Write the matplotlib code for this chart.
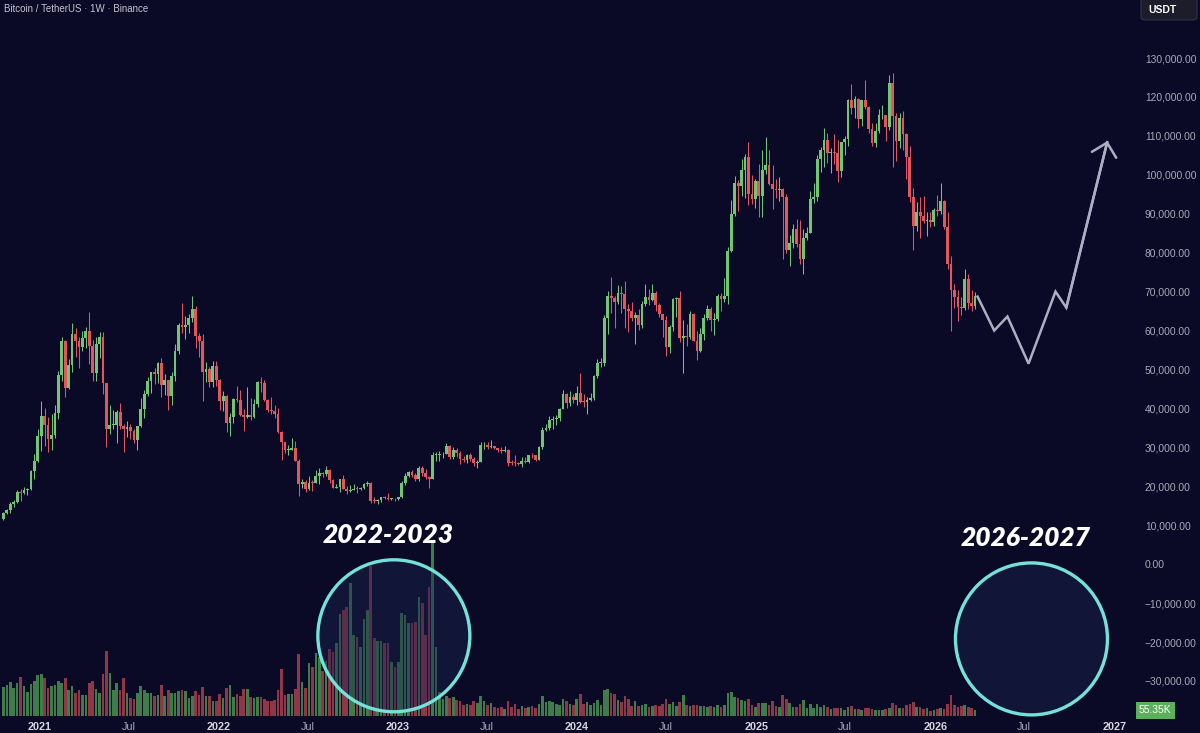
import matplotlib
matplotlib.use("Agg")
import matplotlib.pyplot as plt
import matplotlib.dates as mdates
import matplotlib.transforms as mtrans
from matplotlib.patches import Ellipse, FancyBboxPatch
from matplotlib.ticker import FuncFormatter
import numpy as np
import pandas as pd

plt.rcParams['font.family'] = ['Liberation Sans', 'DejaVu Sans']

# weekly BTC/USDT candles (thousand USDT), first week starts 2020-10-19
first_open = 11.50
highs = [
    # 2020
    13.35, 14.10, 15.97, 16.48, 18.95, 19.42, 19.92, 19.45, 24.30, 28.40, 34.80,
    # 2021
    41.95, 40.10, 37.85, 38.50, 40.95, 49.70, 58.35, 57.53, 52.64, 61.84, 60.63, 58.42, 59.80,
    61.00, 64.85, 57.50, 58.45, 59.50, 59.60, 46.60, 40.90, 39.48, 39.50, 41.33, 36.00, 36.68,
    35.90, 34.68, 35.45, 42.60, 44.78, 48.14, 49.38, 50.50, 51.90, 52.92, 48.84, 47.35, 49.23,
    56.56, 62.00, 67.00, 63.73, 64.27, 69.00, 66.40, 59.27, 59.18, 51.94, 50.70, 52.09, 52.08,
    # 2022
    47.57, 44.50, 43.50, 38.95, 42.66, 45.82, 44.73, 39.84, 45.40, 42.59, 42.45, 47.00, 48.19,
    47.22, 42.41, 42.97, 40.80, 40.02, 34.24, 31.33, 30.66, 32.40, 31.76, 26.90, 21.87, 21.54,
    22.53, 21.60, 24.28, 24.67, 23.65, 25.21, 24.45, 21.82, 20.58, 21.86, 22.80, 19.96, 20.34,
    20.48, 19.95, 19.70, 20.89, 21.48, 21.06, 17.19, 16.80, 17.20, 17.42, 18.39, 17.06, 16.97,
    # 2023
    17.18, 21.26, 23.37, 23.96, 24.26, 23.46, 25.25, 25.13, 24.48, 22.60, 28.87, 28.87, 29.18,
    28.80, 31.00, 30.49, 30.02, 29.84, 29.10, 27.67, 28.26, 28.45, 27.44, 26.80, 31.43, 31.28,
    31.50, 31.80, 30.45, 29.95, 29.99, 30.24, 29.69, 26.84, 28.14, 26.12, 27.49, 27.48, 28.06,
    28.58, 27.99, 30.38, 35.28, 35.98, 37.97, 37.98, 38.42, 40.22, 44.70, 44.00, 44.40, 43.80,
    # 2024
    45.88, 48.97, 43.58, 42.84, 43.88, 48.59, 52.82, 52.98, 64.00, 70.14, 73.78, 68.92, 71.73,
    71.34, 72.80, 66.87, 67.23, 64.73, 65.50, 67.70, 71.98, 70.61, 71.95, 70.20, 66.99, 64.30,
    63.86, 61.40, 68.37, 68.50, 70.08, 62.75, 61.80, 65.00, 64.48, 59.80, 60.70, 64.13, 66.50,
    66.10, 64.48, 69.40, 69.52, 73.62, 81.50, 93.48, 99.59, 98.69, 104.09, 105.25, 108.35, 99.96,
    # 2025
    99.04, 102.72, 106.40, 109.59, 106.46, 102.50, 98.82, 99.48, 96.50, 95.00, 84.50, 87.47,
    88.77, 88.50, 86.10, 86.50, 95.76, 97.90, 104.99, 107.10, 111.98, 110.72, 106.79, 110.53,
    108.91, 108.53, 110.00, 119.49, 123.22, 120.25, 119.80, 119.31, 124.47, 117.63, 113.33,
    113.38, 116.80, 117.90, 115.40, 125.70, 126.20, 116.00, 115.90, 116.40, 110.80, 107.50,
    96.60, 93.10, 94.20, 94.60, 90.40, 90.50, 91.50,
    # 2026
    94.80, 97.90, 93.60, 90.50, 79.20, 72.00, 70.50, 68.50, 75.90, 74.50, 70.30, 69.80,
]
lows = [
    # 2020
    11.40, 12.90, 13.20, 14.80, 15.78, 16.20, 18.10, 17.65, 19.00, 21.80, 26.20,
    # 2021
    29.00, 30.40, 28.85, 29.20, 32.30, 37.35, 47.00, 43.00, 45.00, 49.30, 53.27, 50.43, 54.70,
    55.47, 51.50, 47.00, 47.05, 52.90, 43.82, 30.00, 33.38, 34.80, 31.00, 34.80, 28.80, 32.70,
    32.08, 31.10, 29.28, 35.20, 37.50, 43.08, 43.99, 46.30, 46.51, 42.84, 43.37, 39.60, 40.75,
    47.10, 53.88, 59.46, 57.80, 59.40, 62.28, 55.60, 53.26, 42.00, 46.78, 45.50, 45.56, 45.68,
    # 2022
    39.65, 39.44, 34.00, 32.92, 36.25, 41.74, 38.00, 34.32, 37.45, 37.15, 37.56, 40.47, 44.20,
    41.86, 39.20, 38.53, 37.60, 33.71, 26.70, 28.63, 28.02, 29.30, 26.56, 17.62, 19.64, 18.63,
    19.10, 18.91, 20.76, 20.70, 22.42, 22.67, 20.76, 19.53, 19.50, 18.54, 19.32, 18.13, 18.47,
    18.95, 18.19, 18.98, 19.30, 20.00, 15.59, 15.82, 15.48, 16.00, 16.73, 16.55, 16.40, 16.33,
    # 2023
    16.55, 17.10, 20.40, 22.30, 22.50, 21.36, 21.35, 22.76, 21.97, 19.55, 21.87, 26.60, 26.51,
    27.20, 28.17, 27.13, 26.94, 27.65, 25.81, 26.35, 25.88, 26.51, 25.33, 24.80, 26.26, 29.50,
    29.70, 29.95, 29.61, 28.86, 28.58, 28.71, 25.17, 25.36, 25.33, 25.37, 24.90, 26.00, 25.99,
    27.16, 26.54, 26.78, 29.66, 34.08, 34.52, 34.80, 35.63, 36.71, 39.95, 40.22, 40.50, 41.30,
    # 2024
    40.75, 41.50, 40.28, 38.55, 41.80, 42.26, 47.71, 50.52, 50.90, 59.00, 64.55, 60.78, 66.82,
    64.49, 60.66, 59.60, 62.39, 56.55, 60.19, 60.75, 66.30, 66.60, 67.47, 65.07, 63.38, 58.40,
    53.48, 54.26, 59.94, 63.45, 57.12, 49.00, 56.08, 57.84, 57.20, 52.55, 54.58, 57.49, 62.75,
    59.83, 58.90, 62.44, 65.07, 67.46, 66.84, 80.22, 89.38, 90.79, 94.50, 94.15, 92.17, 92.50,
    # 2025
    91.53, 89.26, 89.26, 100.10, 97.40, 91.23, 94.09, 93.39, 78.26, 80.00, 76.60, 81.13,
    81.56, 77.15, 74.51, 83.14, 85.10, 92.80, 93.38, 100.72, 102.00, 103.07, 100.37, 102.66,
    98.20, 99.50, 105.10, 107.47, 115.74, 114.72, 112.00, 112.65, 116.80, 110.68, 107.35,
    107.26, 110.62, 114.38, 108.65, 111.50, 102.00, 103.52, 106.90, 106.30, 98.94, 93.00,
    80.60, 85.50, 83.80, 87.50, 84.40, 86.50, 86.80,
    # 2026
    89.50, 90.00, 86.00, 75.80, 60.00, 65.80, 62.50, 64.00, 65.20, 65.50, 65.00, 65.60,
]
closes = [
    # 2020
    13.03, 13.80, 15.48, 15.96, 18.41, 18.18, 19.15, 19.27, 23.85, 26.45, 33.00,
    # 2021
    38.15, 35.80, 32.26, 33.10, 38.90, 48.60, 57.40, 45.20, 51.20, 59.00, 57.35, 55.80, 58.20,
    59.77, 56.15, 49.05, 56.62, 58.24, 46.42, 34.70, 35.70, 35.80, 39.10, 35.55, 34.70, 35.29,
    34.25, 31.80, 35.40, 39.85, 43.80, 47.05, 49.29, 48.82, 51.75, 46.06, 47.26, 43.16, 48.20,
    54.66, 61.53, 60.85, 61.30, 63.27, 65.47, 58.62, 57.27, 49.40, 50.10, 46.68, 50.78, 47.29,
    # 2022
    41.86, 43.08, 36.28, 37.92, 42.41, 42.20, 38.35, 37.70, 38.42, 37.78, 41.26, 46.83, 46.41,
    42.16, 39.68, 39.45, 38.47, 34.04, 31.30, 29.43, 29.43, 29.92, 26.57, 20.55, 21.03, 19.30,
    20.85, 20.79, 22.58, 23.30, 23.18, 24.30, 21.52, 19.55, 19.84, 21.83, 19.42, 18.80, 19.05,
    19.42, 19.27, 19.57, 20.63, 20.92, 16.33, 16.28, 16.43, 17.13, 17.10, 16.74, 16.84, 16.61,
    # 2023
    17.13, 20.87, 22.71, 23.74, 22.93, 21.78, 24.63, 23.49, 22.43, 21.99, 27.97, 27.99, 28.17,
    28.33, 30.31, 27.59, 29.23, 28.43, 26.92, 26.75, 28.08, 27.12, 25.92, 26.34, 30.53, 30.62,
    30.17, 30.29, 29.79, 29.28, 29.05, 29.28, 26.10, 26.00, 25.97, 25.83, 26.53, 26.25, 27.98,
    27.92, 26.85, 29.99, 34.53, 35.01, 37.06, 37.36, 37.45, 39.97, 43.79, 41.36, 43.00, 42.28,
    # 2024
    43.93, 41.73, 41.58, 42.12, 42.58, 48.30, 51.66, 51.73, 63.11, 68.96, 68.39, 67.21, 69.65,
    69.36, 65.66, 64.94, 63.12, 63.89, 61.48, 66.94, 68.53, 67.77, 69.65, 66.64, 64.25, 62.68,
    55.86, 60.80, 68.16, 68.25, 58.12, 58.71, 58.43, 64.22, 57.30, 54.84, 59.13, 63.34, 65.60,
    62.82, 62.85, 69.00, 67.98, 68.78, 80.37, 89.85, 97.90, 97.19, 101.11, 104.46, 95.19, 93.71,
    # 2025
    98.36, 94.52, 101.30, 102.62, 97.70, 96.46, 96.12, 96.25, 94.27, 80.73, 82.57, 86.08,
    82.33, 78.37, 83.73, 85.18, 93.75, 94.28, 104.12, 106.45, 109.00, 105.64, 105.73, 105.59,
    100.96, 108.38, 109.20, 119.09, 117.27, 119.45, 114.21, 119.29, 117.41, 111.78, 108.25,
    111.14, 115.27, 115.27, 112.16, 123.51, 115.17, 108.64, 114.50, 110.50, 104.70, 94.20,
    86.80, 90.40, 89.30, 88.20, 88.40, 87.80, 91.00,
    # 2026
    90.60, 93.30, 86.50, 77.00, 70.30, 68.60, 66.00, 65.80, 73.20, 67.20, 66.20, 68.90,
]
# weekly volume, thousand BTC
volumes = [
    # 2020
    290, 310, 340, 280, 330, 390, 300, 240, 320, 350, 410,
    # 2021
    420, 380, 280, 300, 310, 350, 330, 380, 260, 300, 230, 260, 210, 210, 330, 350, 270, 230,
    420, 650, 430, 260, 330, 260, 380, 230, 180, 170, 230, 300, 260, 230, 230, 200, 210, 310,
    200, 260, 230, 230, 250, 260, 250, 180, 200, 250, 210, 290, 200, 200, 150, 150,
    # 2022
    220, 180, 280, 310, 190, 220, 200, 270, 270, 190, 180, 190, 190, 170, 150, 150, 160, 260,
    470, 210, 220, 220, 270, 620, 340, 280, 530, 490, 630, 590, 450, 550, 670, 640, 730, 1020,
    1060, 1090, 1330, 810, 790, 690, 970, 1060, 1500, 780, 750, 750, 730, 730, 540, 490,
    # 2023
    540, 1030, 1010, 930, 930, 940, 1190, 1130, 810, 1290, 1740, 690, 240, 170, 200, 180, 190,
    160, 150, 110, 120, 110, 150, 130, 200, 150, 110, 130, 90, 80, 90, 70, 150, 90, 120, 70,
    100, 80, 90, 100, 80, 120, 200, 140, 150, 140, 120, 110, 170, 150, 120, 110,
    # 2024
    170, 220, 120, 140, 110, 130, 160, 110, 260, 270, 230, 220, 160, 140, 200, 170, 100, 150,
    100, 110, 120, 90, 100, 110, 100, 120, 170, 120, 140, 100, 140, 210, 110, 100, 110, 110,
    100, 100, 90, 100, 90, 110, 90, 110, 230, 240, 190, 180, 160, 150, 170, 110,
    # 2025
    90, 130, 130, 130, 110, 150, 100, 90, 210, 170, 130, 90, 90, 120, 160, 80, 120, 80, 120,
    90, 110, 90, 70, 80, 80, 80, 60, 90, 100, 70, 70, 60, 80, 80, 70, 60, 60, 60, 70, 80, 130,
    110, 80, 80, 110, 120, 140, 90, 90, 70, 80, 50, 60,
    # 2026
    70, 80, 70, 120, 210, 110, 90, 100, 110, 90, 80, 55.35,
]

# hand-drawn projection
path_dates = ["2026-03-27", "2026-05-01", "2026-05-28", "2026-07-10",
              "2026-09-03", "2026-09-25", "2026-12-18"]
path_prices = [69000, 60000, 63600, 51500, 70000, 65900, 108700]

# annotation circles: (label, centre date, centre price)
circles = [("2022-2023", "2022-12-24", -18400),
           ("2026-2027", "2026-07-16", -19200)]
circle_r_px = 76

BG = '#0a0926'
UP, DOWN = '#72c574', '#e2575e'
VUP, VDOWN = '#3e7d4a', '#8f3647'

weeks = pd.date_range("2020-10-19", periods=len(closes), freq="7D")
x = mdates.date2num(weeks)
c = np.array(closes) * 1000
h = np.array(highs) * 1000
l = np.array(lows) * 1000
o = np.r_[first_open * 1000, c[:-1]]
up = c >= o

W, H = 1200, 733
fig = plt.figure(figsize=(12, 7.33), dpi=100, facecolor=BG)
rect = [0, 17 / H, 1133 / W, 716 / H]
ax = fig.add_axes(rect)
ax.set_facecolor(BG)

xmin = mdates.date2num(pd.Timestamp("2020-10-12"))
xmax = mdates.date2num(pd.Timestamp("2027-02-08"))
ymin, ymax = -39000, 144900

# candles
ccol = np.where(up, UP, DOWN)
ax.vlines(x, l, h, colors=ccol, linewidth=0.75, zorder=2)
ax.bar(x, np.maximum(np.abs(c - o), 200), bottom=np.minimum(o, c), width=5.6,
       color=ccol, linewidth=0, zorder=3)

ax.set_xlim(xmin, xmax)
ax.set_ylim(ymin, ymax)

# volume overlay
axv = ax.twinx()
axv.bar(x, volumes, width=5.4, color=np.where(up, VUP, VDOWN), linewidth=0, zorder=1)
axv.set_ylim(0, 7160)
axv.set_yticks([])
axv.set_xlim(xmin, xmax)
for s in axv.spines.values():
    s.set_visible(False)

# axes styling
for s in ax.spines.values():
    s.set_visible(False)
ax.yaxis.tick_right()
ax.set_yticks(np.arange(-30000, 130001, 10000))
ax.yaxis.set_major_formatter(FuncFormatter(lambda v, p: f"{v:,.2f}".replace('-', '\u2212')))
ax.tick_params(axis='y', length=0, pad=8.5, labelsize=7.4, labelcolor='#a9a9bb')

tick_dates, tick_labels = [], []
for yr in range(2021, 2028):
    tick_dates.append(pd.Timestamp(f"{yr}-01-01"))
    tick_labels.append(str(yr))
    if yr < 2027:
        tick_dates.append(pd.Timestamp(f"{yr}-07-01"))
        tick_labels.append("Jul")
ax.set_xticks(mdates.date2num(tick_dates))
ax.set_xticklabels(tick_labels)
ax.tick_params(axis='x', length=0, pad=4, labelsize=7.8, labelcolor='#a9a9bb')
for lab in ax.get_xticklabels():
    if lab.get_text() != "Jul":
        lab.set_fontweight('bold')
        lab.set_color('#d6d6e0')

# annotation layer
ann = fig.add_axes(rect, sharex=ax, sharey=ax)
ann.patch.set_alpha(0)
ann.axis('off')

px_per_day = 1133 / (xmax - xmin)
px_per_usd = 716 / (ymax - ymin)
for label, d, p in circles:
    cx = mdates.date2num(pd.Timestamp(d))
    ann.add_patch(Ellipse((cx, p), 2 * circle_r_px / px_per_day, 2 * circle_r_px / px_per_usd,
                          facecolor='#1a2550', alpha=0.45, edgecolor='none', clip_on=False))
    ann.add_patch(Ellipse((cx, p), 2 * circle_r_px / px_per_day, 2 * circle_r_px / px_per_usd,
                          facecolor='none', edgecolor='#74e2d9', linewidth=2.4, clip_on=False))
    ann.text(cx - 6 / px_per_day, p + 101 / px_per_usd, label, ha='center', va='center',
             color='white', fontsize=19, fontweight='heavy', fontstyle='italic',
             family=['Lato', 'DejaVu Sans'])

pd_x = mdates.date2num(pd.to_datetime(path_dates))
ann.plot(pd_x, path_prices, color='#aeaec2', linewidth=1.8, solid_joinstyle='miter',
         solid_capstyle='butt')
ann.annotate("", xy=(pd_x[-1], path_prices[-1]), xytext=(pd_x[-2], path_prices[-2]),
             arrowprops=dict(arrowstyle="->,head_length=0.45,head_width=0.45", color='#aeaec2',
                             lw=1.8, shrinkA=0, shrinkB=0, mutation_scale=20))

# last volume tag
trans = mtrans.blended_transform_factory(axv.transAxes, axv.transData)
axv.text(1 + 6 / 1133, volumes[-1], f"{volumes[-1]:.2f}K", transform=trans, ha='left',
         va='center', fontsize=7.4, color='white', clip_on=False,
         bbox=dict(boxstyle='square,pad=0.3', fc='#5bb15b', ec='none'))

# header and currency tag
fig.text(4 / W, 1 - 9 / H, "Bitcoin / TetherUS \u00b7 1W \u00b7 Binance", ha='left', va='center',
         fontsize=7, color='#c4c4d0')
fig.patches.append(FancyBboxPatch((1141 / W, 1 - 20 / H), 56 / W, 26 / H,
                                  boxstyle='round,pad=0,rounding_size=0.004',
                                  transform=fig.transFigure, fc='#1c1c2a', ec='#33334a',
                                  lw=0.8))
fig.text(1148 / W, 1 - 10 / H, "USDT", ha='left', va='center', fontsize=7.5, color='white',
         fontweight='bold')

fig.savefig("out.png", dpi=100, facecolor=BG)
